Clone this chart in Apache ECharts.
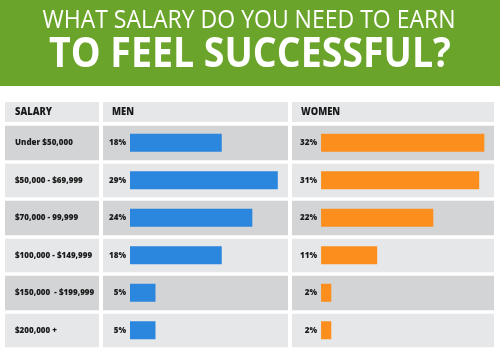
<!DOCTYPE html>
<html>
<head>
<meta charset="utf-8">
<script src="https://cdn.jsdelivr.net/npm/echarts@6/dist/echarts.min.js"></script>
<style>
  html, body { margin: 0; padding: 0; background: #fff; }
  #main { width: 500px; height: 353px; }
</style>
</head>
<body>
<div id="main"></div>
<script>
// 数据
var salaries = ['Under $50,000', '$50,000 - $69,999', '$70,000 - 99,999',
    '$100,000 - $149,999', '$150,000  - $199,999', '$200,000 +'];
var menData = [18, 29, 24, 18, 5, 5];
var womenData = [32, 31, 22, 11, 2, 2];
var headers = ['SALARY', 'MEN', 'WOMEN'];
var titleLines = ['WHAT SALARY DO YOU NEED TO EARN', 'TO FEEL SUCCESSFUL?'];

var myChart = echarts.init(document.getElementById('main'));

var FONT = '"Open Sans", "Noto Sans", sans-serif';
var rowColors = ['#d3d4d6', '#e6e7e9'];

// 标题压缩宽度
function fitScale(text, font, target) {
    var ctx = document.createElement('canvas').getContext('2d');
    ctx.font = font;
    return target / ctx.measureText(text).width;
}
var s1 = fitScale(titleLines[0], 'normal 26px ' + FONT, 413);
var s2 = fitScale(titleLines[1], 'bold 41px ' + FONT, 402);

function catAxis(idx, showLabel) {
    return {
        type: 'category',
        gridIndex: idx,
        inverse: true,
        data: salaries,
        axisLine: { show: false },
        axisTick: { show: false },
        axisLabel: showLabel ? {
            show: true,
            margin: 88,
            align: 'left',
            color: '#1a1a1a',
            fontFamily: FONT,
            fontWeight: 800,
            fontSize: 8
        } : { show: false },
        splitArea: { show: true, areaStyle: { color: rowColors } },
        splitLine: { show: true, lineStyle: { color: '#fff', width: 3.5 } }
    };
}

function valAxis(idx, min, max) {
    return {
        type: 'value',
        gridIndex: idx,
        min: min,
        max: max,
        show: false
    };
}

var barLabel = {
    show: true,
    position: 'left',
    distance: 4,
    formatter: '{c}%',
    color: '#1a1a1a',
    fontFamily: FONT,
    fontWeight: 800,
    fontSize: 8
};

function headText(i, x) {
    return { type: 'text', x: x, y: 112, scaleX: 0.85, style: {
        text: headers[i], fill: '#1a1a1a', font: '800 11px ' + FONT, textVerticalAlign: 'middle' } };
}

option = {
    backgroundColor: '#fff',
    animation: false,
    grid: [
        { left: 5, width: 94, top: 124, height: 225 },   // 薪资列
        { left: 103, width: 185, top: 124, height: 225 }, // 男
        { left: 292, width: 202, top: 124, height: 225 }  // 女
    ],
    xAxis: [valAxis(0, 0, 1), valAxis(1, -5.3, 31), valAxis(2, -5.7, 33.9)],
    yAxis: [catAxis(0, false), catAxis(1, true), catAxis(2, false)],
    series: [{
        name: 'MEN',
        type: 'bar',
        xAxisIndex: 1,
        yAxisIndex: 1,
        barWidth: 18,
        itemStyle: { color: '#2b86de' },
        label: barLabel,
        data: menData
    }, {
        name: 'WOMEN',
        type: 'bar',
        xAxisIndex: 2,
        yAxisIndex: 2,
        barWidth: 18,
        itemStyle: { color: '#fb8e1c' },
        label: barLabel,
        data: womenData
    }],
    graphic: [
        { type: 'rect', shape: { x: 0, y: 0, width: 500, height: 86 }, style: { fill: '#6ba42b' }, z: -1 },
        { type: 'text', x: 249, y: 21, scaleX: s1, style: {
            text: titleLines[0], fill: '#fff', font: 'normal 26px ' + FONT,
            textAlign: 'center', textVerticalAlign: 'middle' } },
        { type: 'text', x: 250, y: 55, scaleX: s2, style: {
            text: titleLines[1], fill: '#fff', font: 'bold 41px ' + FONT,
            textAlign: 'center', textVerticalAlign: 'middle' } },
        // 表头
        { type: 'rect', shape: { x: 5, y: 102, width: 94, height: 20 }, style: { fill: '#e6e7e9' } },
        { type: 'rect', shape: { x: 103, y: 102, width: 185, height: 20 }, style: { fill: '#e6e7e9' } },
        { type: 'rect', shape: { x: 292, y: 102, width: 202, height: 20 }, style: { fill: '#e6e7e9' } },
        headText(0, 15),
        headText(1, 112),
        headText(2, 301)
    ]
};

myChart.setOption(option);
</script>
</body>
</html>
